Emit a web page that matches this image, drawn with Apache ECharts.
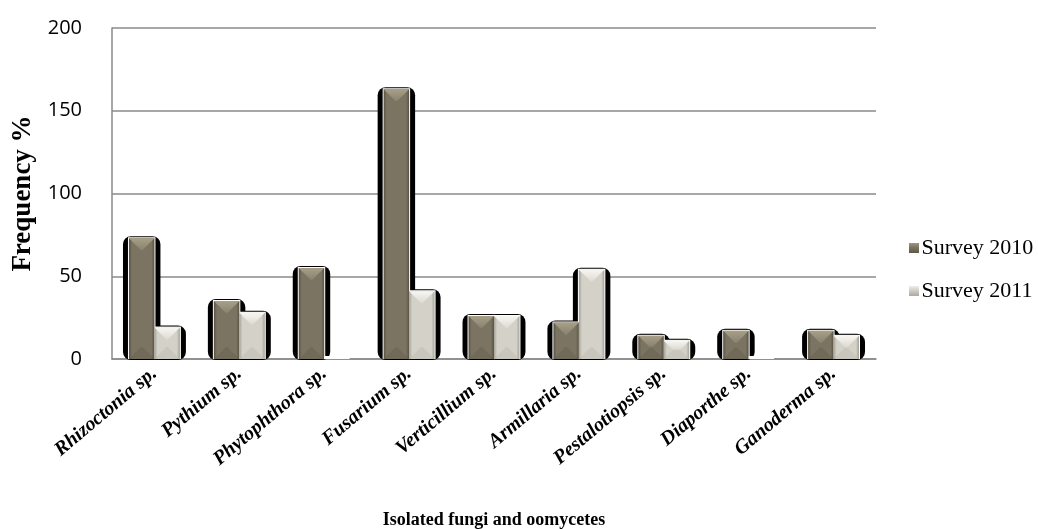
<!DOCTYPE html>
<html>
<head>
<meta charset="utf-8">
<script src="https://cdn.jsdelivr.net/npm/echarts@6/dist/echarts.min.js"></script>
<style>html,body{margin:0;padding:0;background:#fff;}#c{width:1038px;height:529px;}</style>
</head>
<body>
<div id="c"></div>
<script>
const categories = ['Rhizoctonia sp.', 'Pythium sp.', 'Phytophthora sp.', 'Fusarium sp.', 'Verticillium sp.', 'Armillaria sp.', 'Pestalotiopsis sp.', 'Diaporthe sp.', 'Ganoderma sp.'];
const survey2010 = [73, 35, 55, 163, 26, 22, 14, 17, 17];
const survey2011 = [19, 28, 0, 41, 26, 54, 11, 0, 14];
const yTicks = [0, 50, 100, 150, 200];

const palette = {
  s2010: {edge: '#5a5344', mid: '#7b7462', top: '#a89f88', topMid: '#8a826e', bottom: '#645d4e'},
  s2011: {edge: '#a5a398', mid: '#d3d1c8', top: '#f7f6f1', topMid: '#dcdad2', bottom: '#b9b7ad'}
};

function makeRender(side, pal) {
  return function (params, api) {
    const idx = api.value(0);
    const val = api.value(1);
    const base = api.coord([idx, 0]);
    const topPt = api.coord([idx, val]);
    const catW = api.size([1, 0])[0];
    const bw = catW * 0.3;
    const cx = base[0];
    const x = side === 0 ? cx - bw : cx;
    const y0 = base[1];
    const h = y0 - topPt[1];
    const children = [];
    if (h < 3) {
      children.push({type: 'rect', z2: 20, shape: {x: x, y: y0 - 3, width: bw, height: 3}, style: {fill: '#ffffff'}});
      return {type: 'group', children: children};
    }
    const yt = topPt[1];
    children.push({type: 'rect', z2: 1, shape: {x: x - 6, y: yt - 2, width: bw + 12, height: h + 3, r: 8}, style: {fill: '#000000'}});
    children.push({type: 'rect', z2: 10, shape: {x: x - 1, y: yt - 1, width: bw + 2, height: h + 1}, style: {fill: '#ffffff'}});
    children.push({type: 'rect', z2: 11, shape: {x: x, y: yt, width: bw, height: h},
      style: {fill: new echarts.graphic.LinearGradient(0, 0, 1, 0, [
        {offset: 0, color: pal.edge}, {offset: 0.12, color: pal.mid}, {offset: 0.5, color: pal.mid}, {offset: 0.88, color: pal.mid}, {offset: 1, color: pal.edge}])}});
    const d = Math.min(bw / 2, h / 2) * 0.95;
    children.push({type: 'polygon', z2: 12, shape: {points: [[x, yt], [x + bw, yt], [x + bw - d, yt + d], [x + d, yt + d]]},
      style: {fill: new echarts.graphic.LinearGradient(0, 0, 0, 1, [{offset: 0, color: pal.top}, {offset: 1, color: pal.topMid}])}});
    children.push({type: 'polygon', z2: 12, shape: {points: [[x, y0], [x + bw, y0], [x + bw - d, y0 - d], [x + d, y0 - d]]},
      style: {fill: pal.bottom, opacity: 0.4}});
    return {type: 'group', children: children};
  };
}

const chart = echarts.init(document.getElementById('c'));
const serif = '"Liberation Serif", "DejaVu Serif", serif';
chart.setOption({
  animation: false,
  backgroundColor: '#ffffff',
  grid: {left: 112, right: 162, top: 28, bottom: 170, containLabel: false, outerBoundsMode: 'none'},
  legend: {
    orient: 'vertical', left: 903, top: 232, itemWidth: 11, itemHeight: 11, icon: 'rect', itemGap: 21,
    textStyle: {fontFamily: serif, fontSize: 22, color: '#000', padding: [0, 0, 0, -3]},
    data: [
      {name: 'Survey 2010', itemStyle: {color: new echarts.graphic.LinearGradient(0, 0, 0, 1, [{offset: 0, color: '#a89f88'}, {offset: 0.45, color: '#7b7462'}, {offset: 1, color: '#5a5344'}]), borderColor: '#fff', borderWidth: 1}},
      {name: 'Survey 2011', itemStyle: {color: new echarts.graphic.LinearGradient(0, 0, 0, 1, [{offset: 0, color: '#f7f6f1'}, {offset: 0.45, color: '#d0cec6'}, {offset: 1, color: '#a5a398'}]), borderColor: '#fff', borderWidth: 1}}
    ]
  },
  xAxis: {
    type: 'category', data: categories,
    name: 'Isolated fungi and oomycetes', nameLocation: 'middle', nameGap: 152,
    nameTextStyle: {fontFamily: serif, fontWeight: 'bold', fontSize: 18, color: '#000'},
    axisLine: {show: true, lineStyle: {color: '#8a8a8a', width: 1.5}},
    axisTick: {show: false},
    axisLabel: {interval: 0, rotate: 40, margin: 12, fontFamily: serif, fontWeight: 'bold', fontStyle: 'italic', fontSize: 20, color: '#000'}
  },
  yAxis: {
    type: 'value', min: yTicks[0], max: yTicks[yTicks.length - 1], interval: 50,
    name: 'Frequency %', nameLocation: 'middle', nameGap: 72,
    nameTextStyle: {fontFamily: serif, fontWeight: 'bold', fontSize: 27, color: '#000'},
    axisLine: {show: true, lineStyle: {color: '#8a8a8a', width: 1.5}},
    axisTick: {show: false},
    axisLabel: {margin: 30, fontFamily: '"Open Sans", "Liberation Sans", sans-serif', fontSize: 20, color: '#000'},
    splitLine: {show: true, lineStyle: {color: '#8a8a8a', width: 1.5}}
  },
  series: [
    {name: 'Survey 2010', type: 'custom', renderItem: makeRender(0, palette.s2010), encode: {x: 0, y: 1},
      itemStyle: {color: '#7b7462'}, data: categories.map((c, i) => [i, survey2010[i]]), z: 3},
    {name: 'Survey 2011', type: 'custom', renderItem: makeRender(1, palette.s2011), encode: {x: 0, y: 1},
      itemStyle: {color: '#d0cec6'}, data: categories.map((c, i) => [i, survey2011[i]]), z: 3}
  ]
});
</script>
</body>
</html>
